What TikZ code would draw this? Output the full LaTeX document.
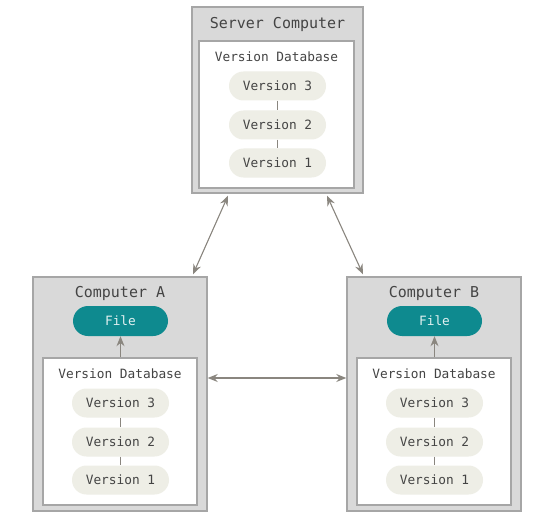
\documentclass[tikz,border=0pt]{standalone}
\usepackage{fontspec}
\setmainfont{DejaVu Sans Mono}
\usetikzlibrary{arrows.meta,calc}
\definecolor{boxgray}{HTML}{D9D9D9}
\definecolor{boxline}{HTML}{A6A6A6}
\definecolor{pill}{HTML}{EEEEE6}
\definecolor{txt}{HTML}{444444}
\definecolor{teal}{HTML}{0E8A8F}
\definecolor{conn}{HTML}{8A867F}
\tikzset{
  outerbox/.style={draw=boxline, fill=boxgray, line width=1.4pt, minimum width=#1, inner sep=0pt},
  innerbox/.style={draw=boxline, fill=white, line width=1.2pt, inner sep=0pt},
  title/.style={text=txt, font=\fontsize{15}{17}\selectfont},
  label/.style={text=txt, font=\fontsize{12.8}{14}\selectfont},
  verpill/.style={fill=pill, rounded corners=14.5pt, minimum width=97pt, minimum height=29pt, text=txt, font=\fontsize{12.8}{14}\selectfont, inner sep=0pt},
  filepill/.style={fill=teal, rounded corners=15pt, minimum width=95pt, minimum height=30pt, text=white!88!teal, font=\fontsize{12.8}{14}\selectfont, inner sep=0pt},
  link/.style={draw=conn, line width=0.9pt},
  arr/.style={draw=conn, line width=1.1pt, {Stealth[length=10pt,width=8pt]}-{Stealth[length=10pt,width=8pt]}},
  uparr/.style={draw=conn, line width=1.1pt, -{Stealth[length=10pt,width=8pt]}},
}
\begin{document}
\begin{tikzpicture}[x=1pt,y=-1pt]
\useasboundingbox (0,0) rectangle (554,516);
% Server
\node[outerbox=171pt, minimum height=186pt] (srv) at (277.5,100) {};
\node[innerbox, minimum width=155pt, minimum height=147pt] (srvdb) at (276.5,114.5) {};
\node[title] (srvt) at (277.5,24) {Server Computer};
\node[label] (srvdbt) at (276.5,57) {Version Database};
\node[verpill] (s3) at (277.5,86) {Version 3};
\node[verpill] (s2) at (277.5,125) {Version 2};
\node[verpill] (s1) at (277.5,163) {Version 1};
\draw[link] (s3) -- (s2);
\draw[link] (s2) -- (s1);
% Computer A
\node[outerbox=174pt, minimum height=234pt] (ca) at (120,394) {};
\node[innerbox, minimum width=154pt, minimum height=147pt] (cadb) at (120,431.5) {};
\node[title] (cat) at (120,293) {Computer A};
\node[filepill] (af) at (120.5,321) {File};
\node[label] (cadbt) at (120,374) {Version Database};
\node[verpill] (a3) at (120.5,403) {Version 3};
\node[verpill] (a2) at (120.5,442) {Version 2};
\node[verpill] (a1) at (120.5,480) {Version 1};
\draw[link] (a3) -- (a2);
\draw[link] (a2) -- (a1);
\draw[uparr] (cadb.north -| af) -- (af.south);
% Computer B
\node[outerbox=174pt, minimum height=234pt] (cb) at (434,394) {};
\node[innerbox, minimum width=154pt, minimum height=147pt] (cbdb) at (434,431.5) {};
\node[title] (cbt) at (434,293) {Computer B};
\node[filepill] (bf) at (434.5,321) {File};
\node[label] (cbdbt) at (434,374) {Version Database};
\node[verpill] (b3) at (434.5,403) {Version 3};
\node[verpill] (b2) at (434.5,442) {Version 2};
\node[verpill] (b1) at (434.5,480) {Version 1};
\draw[link] (b3) -- (b2);
\draw[link] (b2) -- (b1);
\draw[uparr] (cbdb.north -| bf) -- (bf.south);
% connectors
\coordinate (sl) at ([xshift=-49.5pt,yshift=-2pt]srv.south);
\coordinate (sr) at ([xshift=49.5pt,yshift=-2pt]srv.south);
\coordinate (al) at ([xshift=73pt,yshift=2pt]ca.north);
\coordinate (br) at ([xshift=-71pt,yshift=2pt]cb.north);
\draw[arr] (sl) -- (al);
\draw[arr] (sr) -- (br);
\draw[arr] ([yshift=16pt]ca.east) -- ([yshift=16pt]cb.west);
\end{tikzpicture}
\end{document}
